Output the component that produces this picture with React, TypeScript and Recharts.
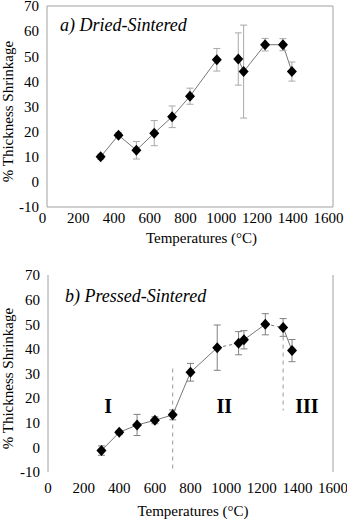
import React from "react";
import {
  ComposedChart,
  Line,
  Scatter,
  XAxis,
  YAxis,
  ErrorBar,
  ReferenceLine,
  ReferenceDot,
} from "recharts";

const tempTicks = [0, 200, 400, 600, 800, 1000, 1200, 1400, 1600];
const shrinkTicks = [-10, 0, 10, 20, 30, 40, 50, 60, 70];

// a) dried then sintered
const driedTemps = [300, 400, 500, 600, 700, 800, 950, 1070, 1100, 1220, 1320, 1370];
const driedShrink = [10.0, 18.6, 12.6, 19.4, 25.9, 34.1, 48.6, 48.9, 43.9, 54.6, 54.6, 43.9];
const driedErr = [1.0, 1.0, 3.5, 5.0, 4.3, 3.2, 4.5, 10.4, 18.5, 2.5, 2.4, 3.8];

// b) pressed then sintered
const pressedTemps = [300, 400, 500, 600, 700, 800, 950, 1070, 1100, 1220, 1320, 1370];
const pressedShrink = [-1.3, 6.1, 9.1, 11.0, 13.2, 30.5, 40.5, 42.3, 43.7, 50.0, 48.7, 39.3];
const pressedErr = [1.9, 0.8, 4.3, 1.4, 2.0, 3.6, 9.2, 4.7, 3.7, 4.3, 3.6, 4.5];

// which consecutive points are joined (index ranges into the arrays above)
const driedRuns = [
  { from: 0, to: 6 },
  { from: 7, to: 11 },
];
const pressedRuns = [
  { from: 0, to: 6 },
  { from: 6, to: 7, dashed: true },
  { from: 7, to: 9 },
  { from: 9, to: 10, dashed: true },
  { from: 10, to: 11 },
];

// stage boundaries and stage names for the pressed samples
const stageBounds = [
  { t: 700, top: 32, bottom: -10 },
  { t: 1320, top: 45, bottom: 15 },
];
const stageNames = ["I", "II", "III"];
const stageNameTemps = [337, 989, 1453];
const stageNameLevel = 16.8;

const FONT = "Liberation Serif, Tinos, Times New Roman, serif";
const AXIS = "#a0a0a0";

type Run = { from: number; to: number; dashed?: boolean };

function Diamond(props: any) {
  const { cx, cy } = props;
  if (cx == null || cy == null) return null;
  return (
    <polygon
      points={`${cx},${cy - 5.5} ${cx + 5},${cy} ${cx},${cy + 5.5} ${cx - 5},${cy}`}
      fill="#000"
    />
  );
}

function ShrinkPanel(props: {
  temps: number[];
  shrink: number[];
  err: number[];
  runs: Run[];
  height: number;
  plotTop: number;
  plotLeft: number;
  xAxisHeight: number;
  boxed: boolean;
  tickDx: number;
  tickMargin: number;
  titleDx: number;
  titleDrop: number;
  barColor: string;
  children?: React.ReactNode;
}) {
  const points = props.temps.map((t, i) => ({ t, v: props.shrink[i], e: props.err[i] }));
  const tickFont = { fill: "#000", fontSize: 15, fontFamily: FONT };

  return (
    <ComposedChart
      width={347}
      height={props.height}
      margin={{ top: props.plotTop, right: 14, bottom: 0, left: 0 }}
      style={{ fontFamily: FONT }}
    >
      <XAxis
        dataKey="t"
        type="number"
        domain={[0, 1600]}
        ticks={tempTicks}
        interval={0}
        height={props.xAxisHeight}
        axisLine={props.boxed ? { stroke: AXIS } : false}
        tickLine={false}
        tickSize={0}
        tickMargin={props.tickMargin}
        tick={{ ...tickFont, dx: props.tickDx }}
        label={{
          content: ({ viewBox }: any) => (
            <text
              x={viewBox.x + viewBox.width / 2 + props.titleDx}
              y={viewBox.y + props.titleDrop}
              textAnchor="middle"
              fontFamily={FONT}
              fontSize={15}
              fill="#000"
            >
              Temperatures (°C)
            </text>
          ),
        }}
      />
      <XAxis
        xAxisId="bottomTicks"
        orientation="bottom"
        mirror
        type="number"
        domain={[0, 1600]}
        ticks={tempTicks}
        interval={0}
        axisLine={false}
        tickLine={{ stroke: AXIS }}
        tickSize={4}
        tick={false}
      />
      <XAxis
        xAxisId="top"
        orientation="top"
        mirror
        type="number"
        domain={[0, 1600]}
        ticks={tempTicks}
        interval={0}
        axisLine={props.boxed ? { stroke: AXIS } : false}
        tickLine={{ stroke: AXIS }}
        tickSize={4}
        tick={false}
      />
      <YAxis
        type="number"
        domain={[-10, 70]}
        ticks={shrinkTicks}
        interval={0}
        width={props.plotLeft}
        axisLine={{ stroke: AXIS }}
        tickLine={false}
        tickSize={0}
        tickMargin={8}
        tick={tickFont}
        label={{
          content: ({ viewBox }: any) => {
            const x = viewBox.x + 8;
            const y = viewBox.y + viewBox.height / 2 + 5;
            return (
              <text
                x={x}
                y={y}
                transform={`rotate(-90, ${x}, ${y})`}
                textAnchor="middle"
                dominantBaseline="central"
                fontFamily={FONT}
                fontSize={15}
                fill="#000"
              >
                % Thickness Shrinkage
              </text>
            );
          },
        }}
      />
      <YAxis
        yAxisId="leftTicks"
        orientation="left"
        mirror
        type="number"
        domain={[-10, 70]}
        ticks={shrinkTicks}
        interval={0}
        axisLine={false}
        tickLine={{ stroke: AXIS }}
        tickSize={5}
        tick={false}
      />
      <YAxis
        yAxisId="right"
        orientation="right"
        mirror
        type="number"
        domain={[-10, 70]}
        ticks={shrinkTicks}
        interval={0}
        axisLine={{ stroke: AXIS }}
        tickLine={{ stroke: AXIS }}
        tickSize={4}
        tick={false}
      />

      {props.children}

      {props.runs.map((run, i) => (
        <Line
          key={i}
          data={points.slice(run.from, run.to + 1)}
          dataKey="v"
          stroke="#777"
          strokeWidth={1}
          strokeDasharray={run.dashed ? "3 3" : undefined}
          dot={false}
          activeDot={false}
          isAnimationActive={false}
        />
      ))}

      <Scatter data={points} dataKey="v" shape={<Diamond />} isAnimationActive={false}>
        <ErrorBar dataKey="e" direction="y" width={3.5} stroke={props.barColor} strokeWidth={1} />
      </Scatter>
    </ComposedChart>
  );
}

const titleStyle: React.CSSProperties = {
  position: "absolute",
  fontFamily: FONT,
  fontStyle: "italic",
  fontSize: 18,
  lineHeight: "18px",
  color: "#000",
  whiteSpace: "nowrap",
};

export default function App() {
  return (
    <div
      style={{
        position: "absolute",
        left: 0,
        top: 0,
        width: 347,
        height: 519,
        background: "#fff",
        overflow: "hidden",
        fontFamily: FONT,
      }}
    >
      <div style={{ position: "absolute", left: 0, top: 0 }}>
        <ShrinkPanel
          temps={driedTemps}
          shrink={driedShrink}
          err={driedErr}
          runs={driedRuns}
          height={260}
          plotTop={6}
          plotLeft={47}
          xAxisHeight={53}
          boxed
          tickDx={-4.5}
          tickMargin={5}
          titleDx={11.5}
          titleDrop={35.5}
          barColor="#a8a8a8"
        />
        <div style={{ ...titleStyle, left: 60, top: 16 }}>a) Dried-Sintered</div>
      </div>

      <div style={{ position: "absolute", left: 0, top: 260 }}>
        <ShrinkPanel
          temps={pressedTemps}
          shrink={pressedShrink}
          err={pressedErr}
          runs={pressedRuns}
          height={259}
          plotTop={15}
          plotLeft={48}
          xAxisHeight={47}
          boxed={false}
          tickDx={0}
          tickMargin={10}
          titleDx={2.5}
          titleDrop={44}
          barColor="#808080"
        >
          {stageBounds.map((b) => (
            <ReferenceLine
              key={b.t}
              segment={[
                { x: b.t, y: b.top },
                { x: b.t, y: b.bottom },
              ]}
              stroke="#999"
              strokeDasharray="4 4"
            />
          ))}
          {stageNames.map((name, i) => (
            <ReferenceDot
              key={name}
              x={stageNameTemps[i]}
              y={stageNameLevel}
              r={0}
              fill="none"
              stroke="none"
              label={{
                value: name,
                position: "center",
                fontSize: 20,
                fontWeight: 700,
                fontFamily: FONT,
                fill: "#000",
              }}
            />
          ))}
        </ShrinkPanel>
        <div style={{ ...titleStyle, left: 65, top: 287 - 260 }}>b) Pressed-Sintered</div>
      </div>
    </div>
  );
}
